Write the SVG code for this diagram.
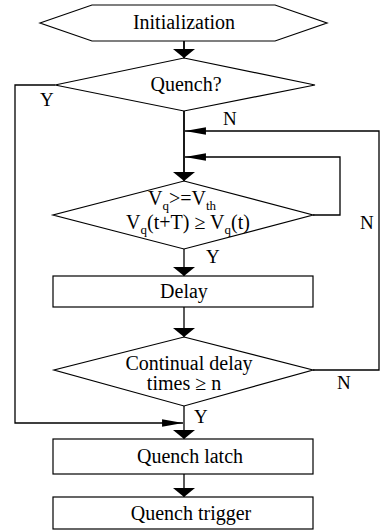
<svg xmlns="http://www.w3.org/2000/svg" width="383" height="531" viewBox="0 0 383 531">
  <style>
    .shape { fill: #fff; stroke: #000; stroke-width: 1.2; }
    .line { fill: none; stroke: #000; stroke-width: 1.3; }
    .main { fill: none; stroke: #000; stroke-width: 1.8; }
    text { font-family: "Liberation Serif", "Times New Roman", serif; font-size: 20px; fill: #000; }
    .c { text-anchor: middle; }
    .lbl { font-size: 19px; }
  </style>
  <defs>
    <marker id="arrowV" markerUnits="userSpaceOnUse" markerWidth="24" markerHeight="24" viewBox="-9 -12 10 24" refX="0" refY="0" orient="auto">
      <path d="M0,0 L-9,-11 L-9,11 Z" fill="#000"/>
    </marker>
    <marker id="arrowH" markerUnits="userSpaceOnUse" markerWidth="22" markerHeight="10" viewBox="-20 -4 21 8" refX="0" refY="0" orient="auto">
      <path d="M0,0 L-20,-3.6 L-20,3.6 Z" fill="#000"/>
    </marker>
  </defs>

  <rect width="383" height="531" fill="#fff"/>

  <!-- connectors -->
  <g id="connectors">
    <path class="main" d="M184,41 V58" marker-end="url(#arrowV)"/>
    <path class="main" d="M184,111 V181" marker-end="url(#arrowV)"/>
    <!-- outer N loop from the delay-count check -->
    <path class="line" d="M313,370 H379 V131 H185" marker-end="url(#arrowH)"/>
    <!-- inner N loop from the threshold check -->
    <path class="line" d="M313,215 H340 V157 H185" marker-end="url(#arrowH)"/>
    <path class="line" d="M184,249 V276" marker-end="url(#arrowV)"/>
    <path class="line" d="M184,307 V337" marker-end="url(#arrowV)"/>
    <path class="line" d="M184,406 V439" marker-end="url(#arrowV)"/>
    <!-- Y branch bypassing to the latch -->
    <path class="line" d="M55,85 H15 V423 H183" marker-end="url(#arrowH)"/>
    <path class="line" d="M184,474 V497" marker-end="url(#arrowV)"/>
    <text class="lbl" x="40" y="106">Y</text>
    <text class="lbl" x="223" y="125">N</text>
    <text class="lbl" x="206" y="263">Y</text>
    <text class="lbl" x="360" y="229">N</text>
    <text class="lbl" x="337" y="389">N</text>
    <text class="lbl" x="194" y="423">Y</text>
  </g>

  <g id="init">
    <polygon class="shape" points="40,23 92,5 275,5 327,23 275,41 92,41"/>
    <text class="c" x="184" y="29">Initialization</text>
  </g>

  <g id="quench">
    <polygon class="shape" points="184,58 315,85 184,111 55,85"/>
    <text class="c" x="186" y="91">Quench?</text>
  </g>

  <g id="threshold">
    <polygon class="shape" points="184,181 313,215 184,249 53,215"/>
    <text class="c" x="182" y="205">V<tspan font-size="13" dy="5">q</tspan><tspan dy="-5">&gt;=V</tspan><tspan font-size="13" dy="5">th</tspan></text>
    <text class="c" x="188" y="229">V<tspan font-size="13" dy="5">q</tspan><tspan dy="-5">(t+T) ≥ V</tspan><tspan font-size="13" dy="5">q</tspan><tspan dy="-5">(t)</tspan></text>
  </g>

  <g id="delay">
    <rect class="shape" x="53" y="276" width="260" height="31"/>
    <text class="c" x="184" y="298">Delay</text>
  </g>

  <g id="count">
    <polygon class="shape" points="184,337 313,370 184,406 54,370"/>
    <text class="c" x="189" y="370">Continual delay</text>
    <text class="c" x="184" y="390">times ≥ n</text>
  </g>

  <g id="latch">
    <rect class="shape" x="53" y="439" width="260" height="35"/>
    <text class="c" x="190" y="463">Quench latch</text>
  </g>

  <g id="trigger">
    <rect class="shape" x="53" y="497" width="260" height="32"/>
    <text class="c" x="191" y="520">Quench trigger</text>
  </g>
</svg>
